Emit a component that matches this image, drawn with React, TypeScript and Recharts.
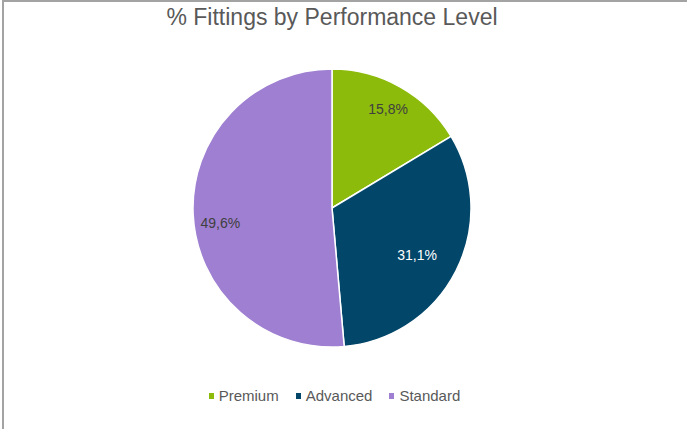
import React from 'react';
import { PieChart, Pie, Cell, Legend } from 'recharts';

const LEVELS = ['Premium', 'Advanced', 'Standard'];
const SHARES = [15.8, 31.1, 49.6];
const LABELS = ['15,8%', '31,1%', '49,6%'];

const COLORS = ['#8cbb0b', '#02466a', '#9f7fd1'];
const LABEL_COLORS = ['#404040', '#ffffff', '#404040'];
// label radius fraction + angle nudge (deg) per slice, to mimic Excel's best-fit placement
const LABEL_POS = [
  { r: 0.82, da: 0 },
  { r: 0.7, da: -2 },
  { r: 0.81, da: 5 },
];

const FONT = "'Liberation Sans', Arial, sans-serif";

const data = LEVELS.map((name, i) => ({ name, value: SHARES[i], label: LABELS[i] }));

const RAD = Math.PI / 180;

// drop the default body margin so the chart sits at the page origin
if (typeof document !== 'undefined') document.body.style.margin = '0';

const renderLabel = (props: any) => {
  const { cx, cy, midAngle, outerRadius, index } = props;
  const pos = LABEL_POS[index];
  const a = (midAngle + pos.da) * RAD;
  const r = outerRadius * pos.r;
  const x = cx + r * Math.cos(a);
  const y = cy - r * Math.sin(a);
  return (
    <text
      x={x}
      y={y}
      fill={LABEL_COLORS[index]}
      textAnchor="middle"
      dominantBaseline="central"
      fontSize={14}
      fontFamily={FONT}
    >
      {data[index].label}
    </text>
  );
};

const renderLegend = () => (
  <div
    style={{
      display: 'flex',
      justifyContent: 'center',
      gap: 17,
      fontFamily: FONT,
      fontSize: 15,
      lineHeight: '17px',
      color: '#595959',
    }}
  >
    {data.map((d, i) => (
      <div key={d.name} style={{ display: 'flex', alignItems: 'center' }}>
        <span style={{ width: 5, height: 6, background: COLORS[i], marginRight: 5, display: 'inline-block' }} />
        {d.name}
      </div>
    ))}
  </div>
);

export default function App() {
  return (
    <div style={{ position: 'relative', width: 687, height: 429, background: '#fff', overflow: 'hidden' }}>
      <div
        style={{
          position: 'absolute',
          top: 4,
          left: 0,
          width: 664,
          textAlign: 'center',
          fontFamily: FONT,
          fontSize: 23,
          color: '#595959',
        }}
      >
        % Fittings by Performance Level
      </div>
      <PieChart
        width={687}
        height={429}
        margin={{ top: 0, right: 0, bottom: 0, left: 0 }}
        style={{ position: 'absolute', top: 0, left: 0 }}
      >
        <Pie
          data={data}
          dataKey="value"
          nameKey="name"
          cx={332}
          cy={208}
          outerRadius={139}
          startAngle={90}
          endAngle={-270}
          stroke="#ffffff"
          strokeWidth={1.5}
          label={renderLabel}
          labelLine={false}
          isAnimationActive={false}
        >
          {data.map((d, i) => (
            <Cell key={d.name} fill={COLORS[i]} />
          ))}
        </Pie>
        <Legend
          content={renderLegend}
          wrapperStyle={{ position: 'absolute', top: 387, left: 0, width: 669, bottom: 'auto' }}
        />
      </PieChart>
      {/* chart-area frame: top and left edges */}
      <div style={{ position: 'absolute', left: 2, top: 0, width: 685, height: 2, background: '#a3a3a3', zIndex: 5 }} />
      <div style={{ position: 'absolute', left: 2, top: 0, width: 2, height: 429, background: '#a3a3a3', zIndex: 5 }} />
    </div>
  );
}
